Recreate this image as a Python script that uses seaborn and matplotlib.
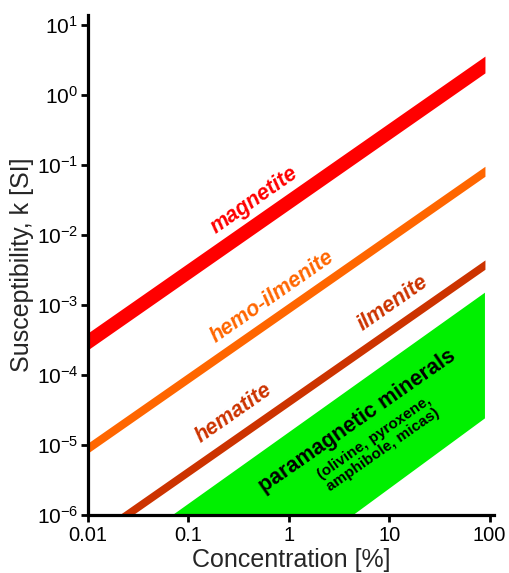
import numpy as np
import matplotlib
matplotlib.use("Agg")
import matplotlib.pyplot as plt
import seaborn as sns

# ---------------- data ----------------
conc_ends = [0.01, 90]                 # concentration [%] at band ends
magnetite_low = [2.3e-4, 2.07]
magnetite_high = [4.0e-4, 3.6]
hemoilm_low = [7.7e-6, 0.069]
hemoilm_high = [1.07e-5, 0.096]
ilm_low = [3.6e-7, 3.24e-3]
ilm_high = [4.9e-7, 4.41e-3]
para_conc = [0.07, 90, 90, 4.4]        # paramagnetic polygon vertices
para_k = [1e-6, 1.5e-3, 2.4e-5, 1e-6]

x_ticks = [0.01, 0.1, 1, 10, 100]
x_ticklabels = ["0.01", "0.1", "1", "10", "100"]
y_ticks = [1e-6, 1e-5, 1e-4, 1e-3, 1e-2, 1e-1, 1e0, 1e1]
y_ticklabels = [r"$\mathdefault{10^{-6}}$", r"$\mathdefault{10^{-5}}$", r"$\mathdefault{10^{-4}}$",
                r"$\mathdefault{10^{-3}}$", r"$\mathdefault{10^{-2}}$", r"$\mathdefault{10^{-1}}$",
                r"$\mathdefault{10^{0}}$", r"$\mathdefault{10^{1}}$"]

c_mag = "#FF0000"
c_hemo = "#FF6600"
c_ilm = "#CC3300"
c_para = "#00F000"

# ---------------- style ----------------
sns.set_theme(style="ticks")
plt.rcParams["font.family"] = ["Liberation Sans", "DejaVu Sans"]
plt.rcParams["mathtext.fontset"] = "custom"
plt.rcParams["mathtext.rm"] = "Liberation Sans"
plt.rcParams["mathtext.it"] = "Liberation Sans:italic"
plt.rcParams["mathtext.bf"] = "Liberation Sans:bold"

fig = plt.figure(figsize=(5.10, 5.73), dpi=100)
ax = fig.add_axes([0.1725, 0.1012, 0.796, 0.8726])
ax.set_xscale("log")
ax.set_yscale("log")
ax.set_xlim(0.01, 110.6)
ax.set_ylim(1e-6, 13.9)

# bands
for lo, hi, col in [(magnetite_low, magnetite_high, c_mag),
                    (hemoilm_low, hemoilm_high, c_hemo),
                    (ilm_low, ilm_high, c_ilm)]:
    ax.fill_between(conc_ends, lo, hi, color=col, lw=0)

ax.fill(para_conc, para_k, color=c_para, lw=0)

# axes styling
sns.despine(ax=ax)
for s in ["left", "bottom"]:
    ax.spines[s].set_linewidth(2.3)
    ax.spines[s].set_color("black")
ax.set_xticks(x_ticks)
ax.set_xticklabels(x_ticklabels)
ax.set_yticks(y_ticks)
ax.set_yticklabels(y_ticklabels)
ax.minorticks_off()
ax.tick_params(axis="both", which="major", direction="out", length=5, width=2,
               color="black", labelcolor="black", pad=3)
ax.tick_params(axis="x", labelsize=14.5)
ax.tick_params(axis="y", labelsize=15, pad=2)
ax.set_xlabel("Concentration [%]", fontsize=18, labelpad=2)
ax.set_ylabel("Susceptibility, k [SI]", fontsize=18, labelpad=2)

# rotation angle of slope-1 lines on screen
fig.canvas.draw()
p0 = ax.transData.transform((0.01, 1e-6))
p1 = ax.transData.transform((100, 1e-2))
ang = np.degrees(np.arctan2(p1[1] - p0[1], p1[0] - p0[0]))

def lab(x, y, s, col, size, style="italic", weight="bold"):
    ax.text(x, y, s, color=col, fontsize=size, fontstyle=style, fontweight=weight,
            rotation=ang, rotation_mode="anchor", ha="center", va="center")

lab(0.45, 0.0316, "magnetite", c_mag, 15.5)
lab(0.68, 1.3e-3, "hemo-ilmenite", c_hemo, 15.5)
lab(10.9, 1.07e-3, "ilmenite", c_ilm, 15.5)
lab(0.284, 2.87e-5, "hematite", c_ilm, 15.5)
lab(4.78, 2.2e-5, "paramagnetic minerals", "black", 15.5, style="normal")
lab(7.2, 1.26e-5, "(olivine, pyroxene,", "black", 11, style="normal")
lab(8.67, 8.5e-6, "amphibole, micas)", "black", 11, style="normal")

fig.savefig("out.png", dpi=100)
